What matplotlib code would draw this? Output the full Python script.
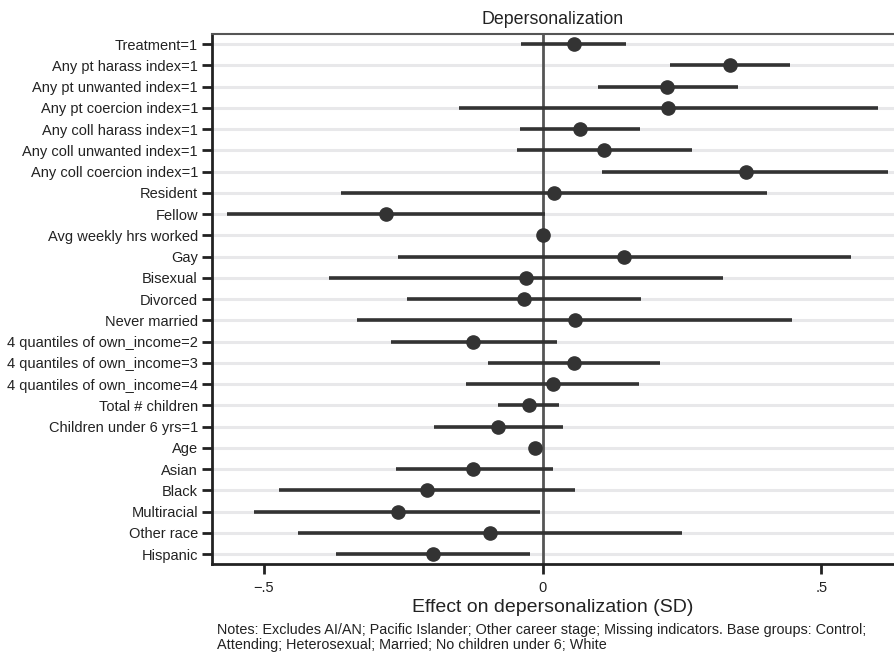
import matplotlib.pyplot as plt

plt.rcParams['font.family'] = ['Liberation Sans', 'DejaVu Sans']

# Coefficients and 95% CIs (effect on depersonalization, SD units)
labels = [
    'Treatment=1', 'Any pt harass index=1', 'Any pt unwanted index=1',
    'Any pt coercion index=1', 'Any coll harass index=1',
    'Any coll unwanted index=1', 'Any coll coercion index=1',
    'Resident', 'Fellow', 'Avg weekly hrs worked', 'Gay', 'Bisexual',
    'Divorced', 'Never married', '4 quantiles of own_income=2',
    '4 quantiles of own_income=3', '4 quantiles of own_income=4',
    'Total # children', 'Children under 6 yrs=1', 'Age', 'Asian', 'Black',
    'Multiracial', 'Other race', 'Hispanic',
]
coef = [0.056, 0.336, 0.223, 0.225, 0.067, 0.110, 0.364, 0.020, -0.281,
        0.000, 0.146, -0.029, -0.033, 0.058, -0.124, 0.056, 0.018, -0.025,
        -0.080, -0.013, -0.124, -0.207, -0.260, -0.095, -0.197]
ci_low = [-0.039, 0.228, 0.099, -0.150, -0.040, -0.046, 0.106, -0.361,
          -0.566, -0.003, -0.259, -0.383, -0.243, -0.333, -0.272, -0.098,
          -0.137, -0.080, -0.195, -0.016, -0.263, -0.473, -0.517, -0.439,
          -0.370]
ci_high = [0.149, 0.444, 0.350, 0.602, 0.174, 0.267, 0.620, 0.403, 0.004,
           0.003, 0.553, 0.323, 0.176, 0.448, 0.025, 0.210, 0.172, 0.029,
           0.036, -0.010, 0.018, 0.058, -0.005, 0.250, -0.023]
xticks = [-0.5, 0, 0.5]
xticklabels = ['\u2212.5', '0', '.5']

fig = plt.figure(figsize=(8.94, 6.56), dpi=100)
ax = fig.add_axes([0.237, 0.140, 0.763, 0.808])

ypos = list(range(len(labels)))
dark = '#333333'

# light row guides
for y in ypos:
    ax.axhline(y, color='#e8e8ea', lw=2.2, zorder=0)

ax.axvline(0, color='#555555', lw=2, zorder=1)
ax.hlines(ypos, ci_low, ci_high, color=dark, lw=2.6, zorder=2)
ax.plot(coef, ypos, 'o', color=dark, markersize=9.5, zorder=3)

ax.set_xlim(-0.593, 0.630)
ax.set_ylim(len(labels) - 0.53, -0.47)
ax.set_yticks(ypos)
ax.set_yticklabels(labels, fontsize=10.5, color='#222222')
ax.set_xticks(xticks)
ax.set_xticklabels(xticklabels, fontsize=10.5, color='#222222')
ax.tick_params(axis='y', length=7, width=2, color='#222222', pad=3)
ax.tick_params(axis='x', length=7, width=2, color='#222222', pad=5)

ax.spines['right'].set_visible(False)
ax.spines['left'].set_linewidth(2)
ax.spines['left'].set_color('#222222')
ax.spines['bottom'].set_linewidth(2)
ax.spines['bottom'].set_color('#222222')
ax.spines['top'].set_linewidth(1.5)
ax.spines['top'].set_color('#555555')

ax.set_title('Depersonalization', fontsize=12.8, color='#222222', pad=7)
ax.set_xlabel('Effect on depersonalization (SD)', fontsize=14, color='#222222', labelpad=3)

fig.text(0.243, 1 - 623 / 656,
         'Notes: Excludes AI/AN; Pacific Islander; Other career stage; Missing indicators. '
         'Base groups: Control;\nAttending; Heterosexual; Married; No children under 6; White',
         fontsize=10.4, color='#222222', linespacing=1.05, va='top')

fig.savefig('out.png', dpi=100)
